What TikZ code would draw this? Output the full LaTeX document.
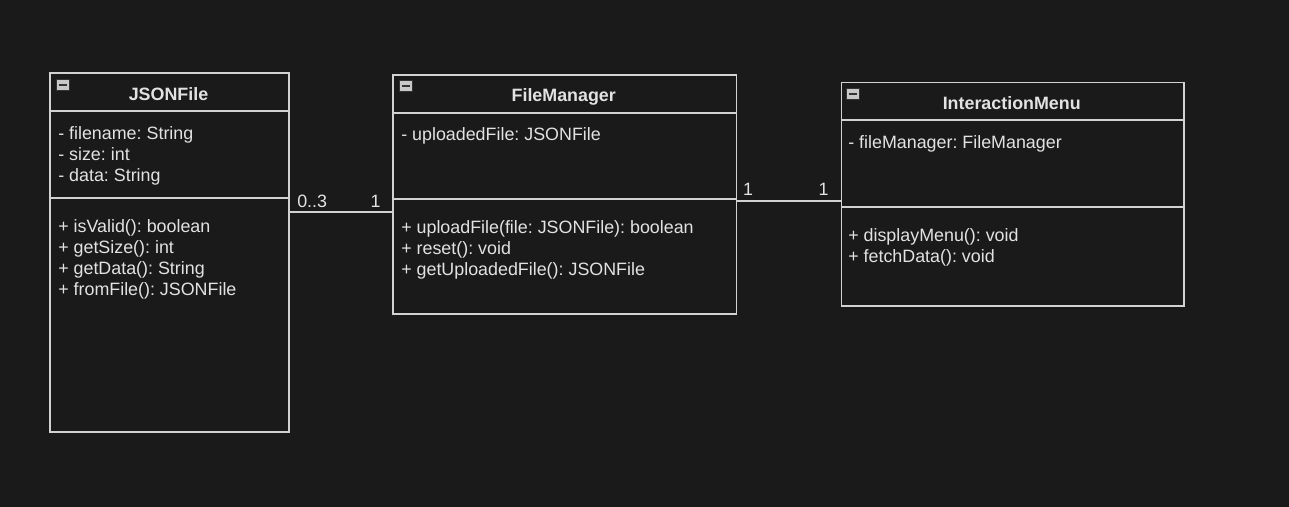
\documentclass[tikz,border=0pt]{standalone}
\usepackage{fontspec}
\setmainfont{Liberation Sans}
\frenchspacing
\definecolor{bg}{HTML}{1A1A1A}
\definecolor{ln}{HTML}{D2D2D2}
\definecolor{tx}{HTML}{E2E2E2}
\definecolor{icfill}{HTML}{C8C8C8}
\definecolor{icdark}{HTML}{333333}
\begin{document}
\begin{tikzpicture}[x=0.75pt,y=-0.75pt,
  box/.style={draw=ln, line width=1.2pt, inner sep=0pt, anchor=north west},
  divider/.style={draw=ln, line width=1.2pt},
  conn/.style={draw=ln, line width=1.2pt},
  txt/.style={text=tx, font=\frenchspacing\fontsize{13.4}{15.75}\selectfont, inner sep=0pt, anchor=base west},
  ttl/.style={text=tx, font=\fontsize{13.4}{15.75}\selectfont\bfseries, inner sep=0pt, anchor=base},
  mult/.style={text=tx, font=\fontsize{13.4}{15.75}\selectfont, inner sep=0pt, anchor=base},
  icon/.style={draw=icdark, fill=icfill, line width=0.4pt, minimum width=9.5pt, minimum height=8.5pt, inner sep=0pt, anchor=north west},
  iconbar/.style={draw=icdark, line width=1.2pt}]
\fill[bg] (0,0) rectangle (1289,507);
\useasboundingbox (0,0) rectangle (1289,507);

% ---------- JSONFile ----------
\node[box, minimum width=239*0.75pt, minimum height=359*0.75pt] (json) at (49,72) {};
\draw[divider] (json.west |- 0,111) -- (json.east |- 0,111);
\draw[divider] (json.west |- 0,198) -- (json.east |- 0,198);
\node[icon] (jicon) at (56,79) {};
\draw[iconbar] ([xshift=2pt]jicon.west) -- ([xshift=-2pt]jicon.east);
\node[ttl] (jtitle) at (168.5,100) {JSONFile};
\node[txt] (ja1) at (58,139) {- filename: String};
\node[txt] (ja2) at (58,160) {- size: int};
\node[txt] (ja3) at (58,181) {- data: String};
\node[txt] (jm1) at (58,232) {+ isValid(): boolean};
\node[txt] (jm2) at (58,253) {+ getSize(): int};
\node[txt] (jm3) at (58,274) {+ getData(): String};
\node[txt] (jm4) at (58,295) {+ fromFile(): JSONFile};

% ---------- FileManager ----------
\node[box, minimum width=343.5*0.75pt, minimum height=239*0.75pt] (fm) at (392,74) {};
\draw[divider] (fm.west |- 0,113) -- (fm.east |- 0,113);
\draw[divider] (fm.west |- 0,199) -- (fm.east |- 0,199);
\node[icon] (ficon) at (399,80) {};
\draw[iconbar] ([xshift=2pt]ficon.west) -- ([xshift=-2pt]ficon.east);
\node[ttl] (ftitle) at (563.75,101) {FileManager};
\node[txt] (fa1) at (401,140) {- uploadedFile: JSONFile};
\node[txt] (fm1) at (401,233) {+ uploadFile(file: JSONFile): boolean};
\node[txt] (fm2) at (401,254) {+ reset(): void};
\node[txt] (fm3) at (401,275) {+ getUploadedFile(): JSONFile};

% ---------- InteractionMenu ----------
\node[box, minimum width=342.5*0.75pt, minimum height=223.5*0.75pt] (im) at (840.5,81.5) {};
\draw[divider] (im.west |- 0,120) -- (im.east |- 0,120);
\draw[divider] (im.west |- 0,207) -- (im.east |- 0,207);
\node[icon] (iicon) at (846,88) {};
\draw[iconbar] ([xshift=2pt]iicon.west) -- ([xshift=-2pt]iicon.east);
\node[ttl] (ititle) at (1011.75,109) {InteractionMenu};
\node[txt] (ia1) at (848,148) {- fileManager: FileManager};
\node[txt] (im1) at (848,241) {+ displayMenu(): void};
\node[txt] (im2) at (848,262) {+ fetchData(): void};

% ---------- connectors ----------
\draw[conn] (json.east |- 0,212) -- (fm.west |- 0,212);
\node[txt] (m1) at (297,207) {0..3};
\node[mult] (m2) at (375.5,207) {1};
\draw[conn] (fm.east |- 0,201) -- (im.west |- 0,201);
\node[mult] (m3) at (748,195) {1};
\node[mult] (m4) at (823.5,195) {1};
\end{tikzpicture}
\end{document}
